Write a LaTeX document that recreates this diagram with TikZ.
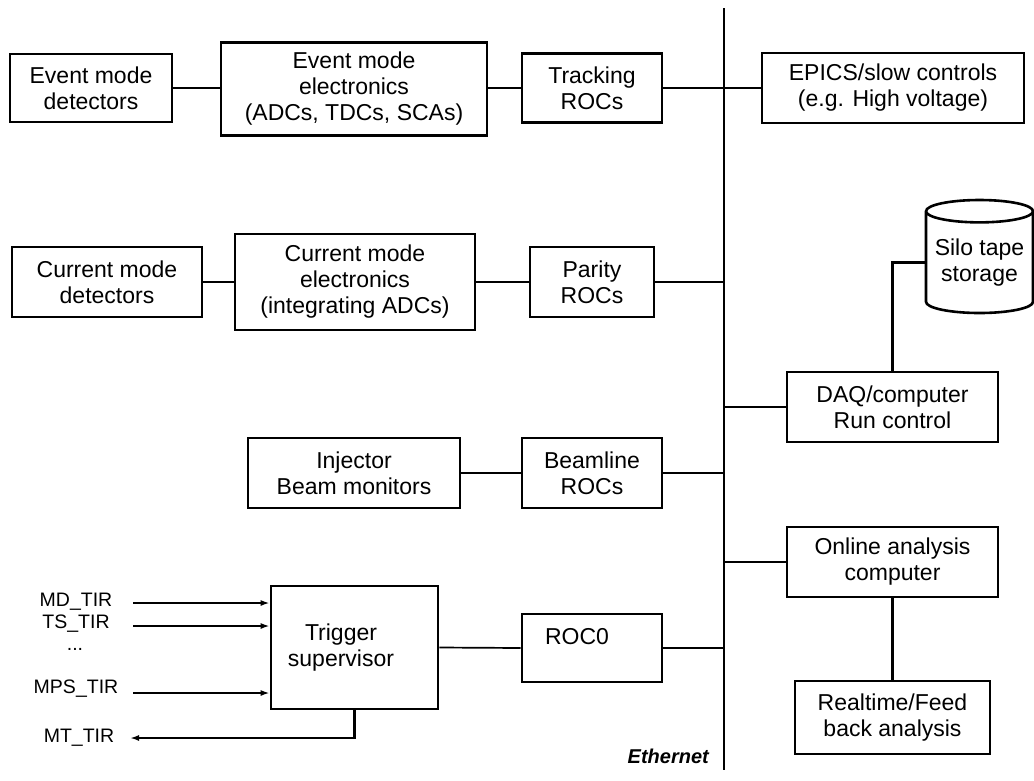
\documentclass[tikz,border=0pt]{standalone}
\usepackage{fontspec}
\setmainfont{Liberation Sans}
\usetikzlibrary{arrows.meta,shapes.geometric}
\tikzset{
  box/.style={draw, line width=2.6pt, align=center, inner sep=0pt,
    font=\fontsize{23}{26}\selectfont},
  link/.style={line width=1.7pt},
  thicklink/.style={line width=2.8pt},
  sig/.style={line width=2.4pt, ->},
  tirlabel/.style={font=\fontsize{19.5}{22}\selectfont, inner sep=0pt}
}
\begin{document}
\begin{tikzpicture}[x=1pt, y=-1pt, >={Latex[length=9pt,width=6pt]}]
    \useasboundingbox (0,0) rectangle (1034,780);

    % 以太网总线
    \coordinate (bustop) at (724,8);
    \coordinate (busbot) at (724,770);
    \draw[line width=2.4pt] (bustop) -- (busbot);
    \node[font=\bfseries\itshape\fontsize{20}{22}\selectfont, anchor=east, inner sep=0pt] (ethlabel) at (709,756) {Ethernet};

    % 事件模式
    \node[box, minimum width=162pt, minimum height=68pt] (evdet) at (91,88) {Event mode\\detectors};
    \node[box, minimum width=266pt, minimum height=93pt] (evelec) at (354,89) {Event mode\\electronics\\(ADCs, TDCs, SCAs)};
    \node[box, minimum width=140pt, minimum height=69pt] (trkroc) at (592,88) {Tracking\\ROCs};
    \node[box, minimum width=262pt, minimum height=70pt] (epics) at (893,88) {EPICS/slow controls\\(e.g. High voltage)};
    \draw[link] (evdet.east) -- (evdet.east -| evelec.west);
    \draw[link] (evelec.east |- trkroc.west) -- (trkroc.west);
    \draw[link] (trkroc.east) -- (trkroc.east -| bustop);
    \draw[link] (epics.west -| bustop) -- (epics.west);

    % 电流模式
    \node[box, minimum width=190pt, minimum height=70pt] (curdet) at (107,282) {Current mode\\detectors};
    \node[box, minimum width=240pt, minimum height=96pt] (curelec) at (355,282) {Current mode\\electronics\\(integrating ADCs)};
    \node[box, minimum width=124pt, minimum height=70pt] (parroc) at (592,282) {Parity\\ROCs};
    \draw[thicklink] (curdet.east) -- (curelec.west);
    \draw[thicklink] (curelec.east) -- (parroc.west);
    \draw[thicklink] (parroc.east) -- (parroc.east -| bustop);

    % 束流监测
    \node[box, minimum width=212pt, minimum height=70pt] (inj) at (354,473) {Injector\\Beam monitors};
    \node[box, minimum width=140pt, minimum height=70pt] (bmroc) at (592,473) {Beamline\\ROCs};
    \draw[link] (inj.east) -- (bmroc.west);
    \draw[link] (bmroc.east) -- (bmroc.east -| bustop);

    % 触发
    \node[box, minimum width=167pt, minimum height=123pt] (trig) at (354.5,647.5) {};
    \node[font=\fontsize{23}{26}\selectfont, align=center, inner sep=0pt] (trigtext) at (341,648) {Trigger\\supervisor};
    \node[box, minimum width=140pt, minimum height=68pt] (roc0) at (592,648) {};
    \node[font=\fontsize{23}{26}\selectfont, inner sep=0pt] (roc0text) at (577,637) {ROC0};
    \draw[link] (trig.east) -- (roc0.west);
    \draw[link] (roc0.east) -- (roc0.east -| bustop);

    % 触发信号
    \node[tirlabel] (mdtir) at (76,602) {MD\_TIR};
    \node[tirlabel] (tstir) at (76,624) {TS\_TIR};
    \node[tirlabel] (dots) at (75,649) {...};
    \node[tirlabel] (mpstir) at (76,689) {MPS\_TIR};
    \node[tirlabel] (mttir) at (79,738) {MT\_TIR};
    \coordinate (mdin) at (133,603);
    \coordinate (tsin) at (133,626);
    \coordinate (mpsin) at (133,693);
    \coordinate (mtout) at (130,738);
    \draw[sig] (mdin) -- (mdin -| trig.west);
    \draw[sig] (tsin) -- (tsin -| trig.west);
    \draw[sig] (mpsin) -- (mpsin -| trig.west);
    \draw[sig] (trig.south) |- (mtout);

    % 计算机与存储
    \node[box, cylinder, shape border rotate=90, aspect=0.25, anchor=shape center, minimum width=107pt, minimum height=113pt] (silo) at (979.5,256.5) {Silo tape\\storage};
    \node[box, minimum width=211pt, minimum height=70pt] (daq) at (892.5,407) {DAQ/computer\\Run control};
    \node[box, minimum width=211pt, minimum height=70pt] (online) at (892.5,562) {Online analysis\\computer};
    \node[box, minimum width=195pt, minimum height=73pt] (realtime) at (892.5,717.5) {Realtime/Feed\\back analysis};
    \draw[link] (daq.west -| bustop) -- (daq.west);
    \draw[link] (online.west -| bustop) -- (online.west);
    \draw[thicklink] (daq.north) |- (silo.west);
    \draw[thicklink] (online.south) -- (realtime.north);
\end{tikzpicture}
\end{document}
